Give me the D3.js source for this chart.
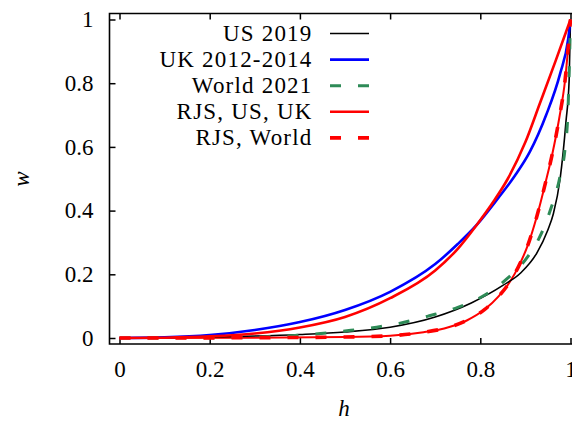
<!DOCTYPE html>
<html>
<head>
<meta charset="utf-8">
<script src="https://cdn.jsdelivr.net/npm/d3@7"></script>
<style>
  body { margin: 0; background: #fff; }
</style>
</head>
<body>
<svg id="chart" width="572" height="423"></svg>
<script>
// values
var hUS = [0, 0.2, 0.4, 0.5, 0.6, 0.7, 0.78, 0.85, 0.89, 0.925, 0.95, 0.962, 0.977, 0.99, 0.997, 1];
var wUS = [0, 0.003, 0.011, 0.019, 0.034, 0.066, 0.11, 0.165, 0.205, 0.266, 0.34, 0.39, 0.5, 0.68, 0.81, 1];

var hUK = [0, 0.1, 0.2, 0.3, 0.4, 0.5, 0.6, 0.7, 0.75, 0.792, 0.84, 0.877, 0.91, 0.946, 0.977, 0.995, 1];
var wUK = [0, 0.002, 0.009, 0.025, 0.05, 0.088, 0.145, 0.232, 0.295, 0.355, 0.44, 0.51, 0.585, 0.70, 0.83, 0.94, 1];

var hWorld = [0, 0.2, 0.38, 0.44, 0.5, 0.57, 0.62, 0.685, 0.75, 0.81, 0.86, 0.906, 0.932, 0.955, 0.975, 0.988, 0.994, 1];
var wWorld = [0, 0.001, 0.007, 0.013, 0.022, 0.034, 0.046, 0.069, 0.096, 0.135, 0.187, 0.257, 0.318, 0.40, 0.496, 0.596, 0.70, 1];

var hRjsUsUk = [0, 0.1, 0.2, 0.3, 0.4, 0.5, 0.6, 0.7, 0.75, 0.792, 0.83, 0.861, 0.9, 0.933, 0.967, 1];
var wRjsUsUk = [0, 0.001, 0.005, 0.014, 0.033, 0.066, 0.125, 0.212, 0.28, 0.355, 0.43, 0.5, 0.615, 0.74, 0.87, 1];

var hRjsWorld = [0, 0.3, 0.5, 0.6, 0.674, 0.72, 0.77, 0.81, 0.84, 0.865, 0.885, 0.905, 0.925, 0.945, 0.96, 0.975, 0.988, 1];
var wRjsWorld = [0, 0.001, 0.003, 0.007, 0.018, 0.03, 0.055, 0.09, 0.13, 0.175, 0.225, 0.29, 0.38, 0.49, 0.58, 0.69, 0.81, 1];

var xTicks = [0, 0.2, 0.4, 0.6, 0.8, 1];
var yTicks = [0, 0.2, 0.4, 0.6, 0.8, 1];

var legendNames = ["US 2019", "UK 2012-2014", "World 2021", "RJS, US, UK", "RJS, World"];

var serif = "'Liberation Serif', 'DejaVu Serif', serif";

var svg = d3.select("#chart");

var x = d3.scaleLinear().domain([0, 1]).range([119.5, 570.5]);
var y = d3.scaleLinear().domain([0, 1]).range([338, 19.5]);

var frameL = 109.5, frameT = 13.5, frameB = 344, frameR = 573;

var fmt = function(d) { return d === 0 || d === 1 ? String(d) : d3.format(".1f")(d); };

// axes, ticks pointing inward like gnuplot
var xAxis = svg.append("g")
    .attr("transform", "translate(0," + frameB + ")")
    .call(d3.axisBottom(x).tickValues(xTicks).tickFormat(fmt).tickSize(-6).tickPadding(17));
var xTop = svg.append("g")
    .attr("transform", "translate(0," + frameT + ")")
    .call(d3.axisTop(x).tickValues(xTicks).tickFormat("").tickSize(-6));
var yAxis = svg.append("g")
    .attr("transform", "translate(" + frameL + ",0)")
    .call(d3.axisLeft(y).tickValues(yTicks).tickFormat(fmt).tickSize(-6).tickPadding(16));

[xAxis, xTop, yAxis].forEach(function(g) {
  g.select(".domain").remove();
  g.selectAll(".tick line").attr("stroke", "#000").attr("stroke-width", 1.5);
  g.selectAll("text")
      .style("font-family", serif)
      .style("font-size", "23px")
      .attr("fill", "#000");
});

svg.append("path")
    .attr("d", "M" + frameR + "," + frameT + "H" + frameL + "V" + frameB + "H" + frameR)
    .attr("fill", "none")
    .attr("stroke", "#000")
    .attr("stroke-width", 1.6);

// axis titles
svg.append("text")
    .attr("x", 344).attr("y", 416)
    .attr("text-anchor", "middle")
    .style("font-family", serif)
    .style("font-size", "23px")
    .style("font-style", "italic")
    .text("h");
svg.append("text")
    .attr("transform", "translate(29,179) rotate(-90)")
    .attr("text-anchor", "middle")
    .style("font-family", serif)
    .style("font-size", "23px")
    .style("font-style", "italic")
    .text("w");

var line = d3.line()
    .x(function(d) { return x(d[0]); })
    .y(function(d) { return y(d[1]); })
    .curve(d3.curveMonotoneX);

function pairs(hs, ws) { return hs.map(function(h, i) { return [h, ws[i]]; }); }

var series = [
  { data: pairs(hUS, wUS), color: "#000000", width: 1.6, dash: null },
  { data: pairs(hUK, wUK), color: "#0000ff", width: 2.6, dash: null },
  { data: pairs(hWorld, wWorld), color: "#2e8b57", width: 3, dash: "11,17" },
  { data: pairs(hRjsUsUk, wRjsUsUk), color: "#ff0000", width: 2.6, dash: null },
  { data: pairs(hRjsWorld, wRjsWorld), color: "#ff0000", width: 3.6, dash: "11,17" }
];

// thin solid trace under the RJS World dashes
svg.append("path")
    .attr("d", line(series[4].data))
    .attr("fill", "none")
    .attr("stroke", "#ff0000")
    .attr("stroke-width", 2);

series.forEach(function(s) {
  svg.append("path")
      .attr("d", line(s.data))
      .attr("fill", "none")
      .attr("stroke", s.color)
      .attr("stroke-width", s.width)
      .attr("stroke-dasharray", s.dash);
});

// legend
var legend = svg.append("g");
series.forEach(function(s, i) {
  var ly = 33.5 + i * 26.1;
  legend.append("text")
      .attr("x", 312.5).attr("y", ly + 7.5)
      .attr("text-anchor", "end")
      .style("font-family", serif)
      .style("font-size", "23px")
      .style("letter-spacing", "1.2px")
      .text(legendNames[i]);
  legend.append("line")
      .attr("x1", 330).attr("x2", 369)
      .attr("y1", ly).attr("y2", ly)
      .attr("stroke", s.color)
      .attr("stroke-width", s.width)
      .attr("stroke-dasharray", s.dash);
});
</script>
</body>
</html>
